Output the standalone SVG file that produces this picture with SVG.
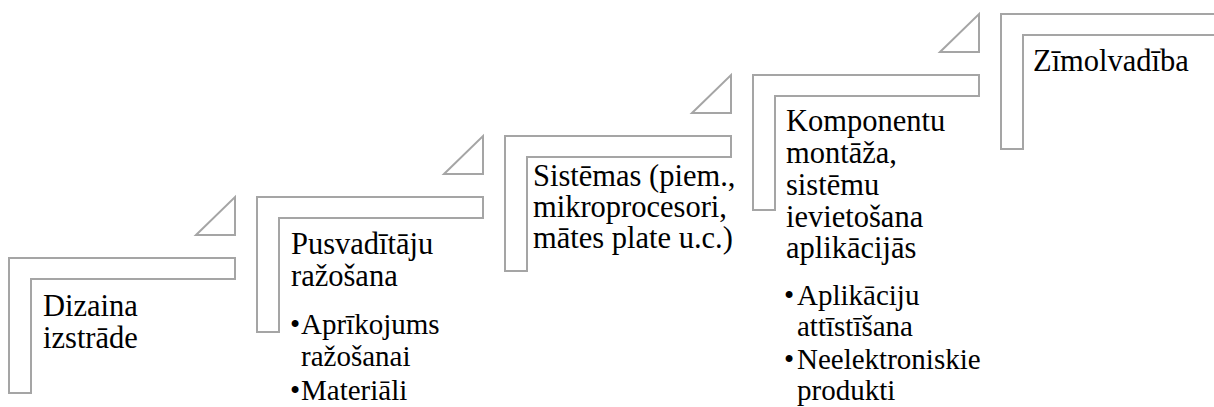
<svg xmlns="http://www.w3.org/2000/svg" width="1214" height="407" viewBox="0 0 1214 407">
  <style>
    .corner { fill: #FFFFFF; stroke: #A5A5A5; stroke-width: 2; stroke-linejoin: miter; }
    .arrow { fill: #FFFFFF; stroke: #A5A5A5; stroke-width: 2; stroke-linejoin: miter; }
    text { font-family: 'Liberation Serif', 'Times New Roman', serif; fill: #000000; }
    .main { font-size: 30.5px; }
    .sub { font-size: 29px; }
  </style>

  <!-- step 1 -->
  <g id="step1">
    <path class="corner" d="M9,258 H235 V279 H31 V393 H9 Z"/>
    <path class="arrow" d="M196,235 L235,197 V235 Z"/>
    <text class="main"><tspan x="43" y="316">Dizaina</tspan><tspan x="43" y="348">izstrāde</tspan></text>
  </g>

  <!-- step 2 -->
  <g id="step2">
    <path class="corner" d="M257,197 H483 V218 H279 V332 H257 Z"/>
    <path class="arrow" d="M444,174 L483,136 V174 Z"/>
    <text class="main"><tspan x="291" y="254">Pusvadītāju</tspan><tspan x="291" y="286">ražošana</tspan></text>
    <text class="sub"><tspan x="290" y="334">•</tspan><tspan x="301" y="334">Aprīkojums</tspan><tspan x="301" y="366">ražošanai</tspan><tspan x="290" y="400">•</tspan><tspan x="301" y="400">Materiāli</tspan></text>
  </g>

  <!-- step 3 -->
  <g id="step3">
    <path class="corner" d="M505,136 H731 V157 H527 V271 H505 Z"/>
    <path class="arrow" d="M692,113 L731,75 V113 Z"/>
    <text class="main"><tspan x="533" y="186">Sistēmas (piem.,</tspan><tspan x="533" y="217">mikroprocesori,</tspan><tspan x="533" y="248">mātes plate u.c.)</tspan></text>
  </g>

  <!-- step 4 -->
  <g id="step4">
    <path class="corner" d="M753,75 H979 V96 H775 V210 H753 Z"/>
    <path class="arrow" d="M940,52 L979,14 V52 Z"/>
    <text class="main"><tspan x="786" y="131">Komponentu</tspan><tspan x="786" y="163">montāža,</tspan><tspan x="786" y="195">sistēmu</tspan><tspan x="786" y="227">ievietošana</tspan><tspan x="786" y="258">aplikācijās</tspan></text>
    <text class="sub"><tspan x="784" y="305">•</tspan><tspan x="797" y="305">Aplikāciju</tspan><tspan x="797" y="336">attīstīšana</tspan><tspan x="784" y="369">•</tspan><tspan x="797" y="369">Neelektroniskie</tspan><tspan x="797" y="400">produkti</tspan></text>
  </g>

  <!-- step 5 -->
  <g id="step5">
    <path class="corner" d="M1001,14 H1227 V35 H1023 V149 H1001 Z"/>
    <text class="main"><tspan x="1033" y="71">Zīmolvadība</tspan></text>
  </g>
</svg>
